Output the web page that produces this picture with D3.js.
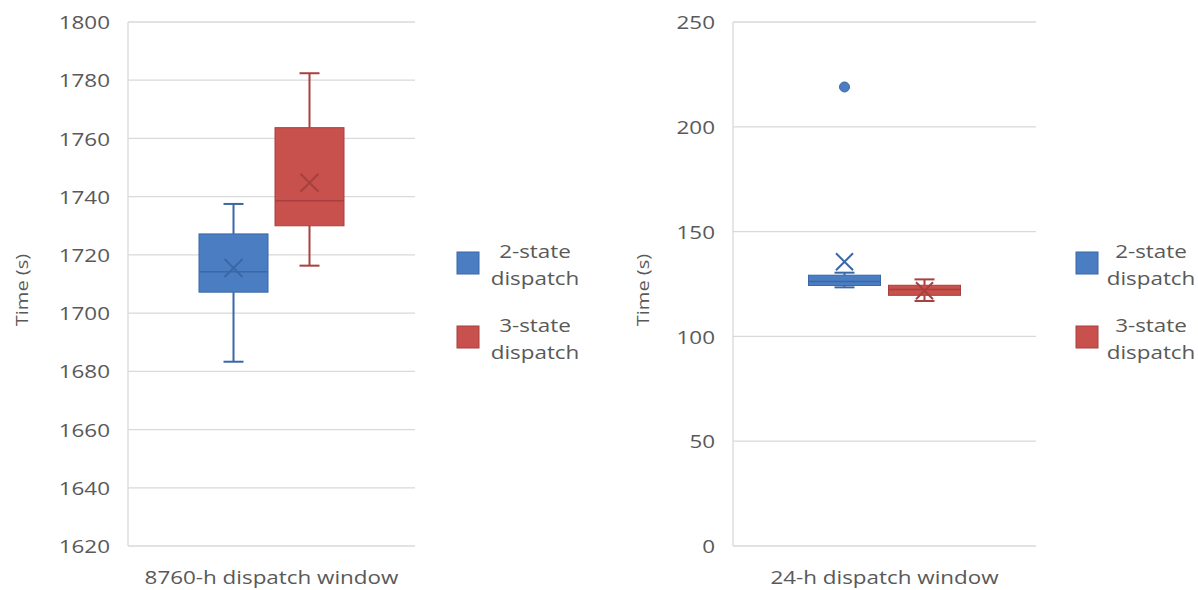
<!DOCTYPE html>
<html>
<head>
<meta charset="utf-8">
<script src="https://cdn.jsdelivr.net/npm/d3@7/dist/d3.min.js"></script>
<style>
  html, body { margin: 0; padding: 0; background: #fff; }
  svg { display: block; }
  text { font-family: "Open Sans", "Noto Sans", sans-serif; fill: #595959; }
</style>
</head>
<body>
<svg id="chart" width="1198" height="590"></svg>
<script>
// Run-time comparison: two dispatch windows, each with a 2-state and a 3-state model.
const categories = ["8760-h dispatch window", "24-h dispatch window"];
const seriesNames = ["2-state dispatch", "3-state dispatch"];
const legendLines = [["2-state", "dispatch"], ["3-state", "dispatch"]];

// Box statistics per window: [2-state, 3-state]
const lowWhisker  = [[1683.3, 1716.3], [123.4, 116.9]];
const q1          = [[1707.2, 1730.0], [124.3, 119.6]];
const median      = [[1714.2, 1738.6], [126.2, 122.4]];
const q3          = [[1727.2, 1763.7], [129.2, 124.4]];
const highWhisker = [[1737.5, 1782.4], [130.4, 127.2]];
const means       = [[1715.5, 1744.8], [135.6, 121.8]];
const outliers    = [[[], []], [[219], []]];

// Axis ticks per window
const yTicks = [
  [1620, 1640, 1660, 1680, 1700, 1720, 1740, 1760, 1780, 1800],
  [0, 50, 100, 150, 200, 250]
];
const yTitle = "Time (s)";

const fills   = ["#4a7dc2", "#c8504d"];
const strokes = ["#3a67a6", "#a7403e"];

// Panel geometry
const panels = [
  { left: 128, right: 415, top: 22, bottom: 546, groupWidth: 145, gap: 7, legendX: 457, legendText: 78, titleX: 22 },
  { left: 733, right: 1036, top: 22, bottom: 546, groupWidth: 152, gap: 8, legendX: 1076, legendText: 75, titleX: 643 }
];

const TEXT_STRETCH = 1.18;
const FONT = "19px";
const svg = d3.select("#chart");

panels.forEach((p, ci) => {
  const g = svg.append("g");
  const ticks = yTicks[ci];

  const y = d3.scaleLinear()
    .domain([ticks[0], ticks[ticks.length - 1]])
    .range([p.bottom, p.top]);

  const x0 = d3.scaleBand().domain([categories[ci]]).range([p.left, p.right]);
  const cx = x0(categories[ci]) + x0.bandwidth() / 2;
  const x1 = d3.scaleBand()
    .domain(seriesNames)
    .range([cx - p.groupWidth / 2, cx + p.groupWidth / 2])
    .paddingInner(p.gap / (p.groupWidth / 2 + p.gap / 2));

  // Gridlines
  g.append("g")
    .selectAll("line")
    .data(ticks)
    .join("line")
    .attr("x1", p.left).attr("x2", p.right)
    .attr("y1", d => y(d)).attr("y2", d => y(d))
    .attr("stroke", "#d9d9d9").attr("stroke-width", 1.3);

  // Vertical axis line
  g.append("line")
    .attr("x1", p.left).attr("x2", p.left)
    .attr("y1", p.top).attr("y2", p.bottom)
    .attr("stroke", "#d9d9d9").attr("stroke-width", 1.3);

  // Y axis labels
  const yAxis = d3.axisLeft(y).tickValues(ticks).tickFormat(d3.format("d")).tickSize(0).tickPadding(0);
  const ya = g.append("g").attr("transform", `translate(${p.left},0)`).call(yAxis);
  ya.select(".domain").remove();
  ya.selectAll("text")
    .attr("x", 0).attr("dy", "0.35em")
    .attr("transform", `translate(-18,0) scale(${TEXT_STRETCH},1)`)
    .style("font-size", FONT)
    .style("font-family", "'Open Sans', sans-serif")
    .style("fill", "#595959");

  // Y axis title
  g.append("text")
    .attr("transform", `translate(${p.titleX + 6},${(p.top + p.bottom) / 2 + 6}) rotate(-90) scale(${TEXT_STRETCH},1)`)
    .attr("text-anchor", "middle")
    .style("font-size", "17px")
    .text(yTitle);

  // X axis label
  g.append("text")
    .attr("transform", `translate(${cx},${p.bottom + 38}) scale(${TEXT_STRETCH},1)`)
    .attr("text-anchor", "middle")
    .style("font-size", FONT)
    .text(categories[ci]);

  // Boxes
  seriesNames.forEach((s, si) => {
    const bx = x1(s);
    const bw = x1.bandwidth();
    const mx = bx + bw / 2;
    const sg = g.append("g");

    // whiskers
    sg.append("line")
      .attr("x1", mx).attr("x2", mx)
      .attr("y1", y(highWhisker[ci][si])).attr("y2", y(q3[ci][si]))
      .attr("stroke", strokes[si]).attr("stroke-width", 2);
    sg.append("line")
      .attr("x1", mx).attr("x2", mx)
      .attr("y1", y(q1[ci][si])).attr("y2", y(lowWhisker[ci][si]))
      .attr("stroke", strokes[si]).attr("stroke-width", 2);
    [highWhisker[ci][si], lowWhisker[ci][si]].forEach(v => {
      sg.append("line")
        .attr("x1", mx - 10).attr("x2", mx + 10)
        .attr("y1", y(v)).attr("y2", y(v))
        .attr("stroke", strokes[si]).attr("stroke-width", 2);
    });

    // box
    sg.append("rect")
      .attr("x", bx).attr("width", bw)
      .attr("y", y(q3[ci][si]))
      .attr("height", y(q1[ci][si]) - y(q3[ci][si]))
      .attr("fill", fills[si])
      .attr("stroke", strokes[si]).attr("stroke-width", 1);

    // median
    sg.append("line")
      .attr("x1", bx).attr("x2", bx + bw)
      .attr("y1", y(median[ci][si])).attr("y2", y(median[ci][si]))
      .attr("stroke", strokes[si]).attr("stroke-width", 1.6);

    // mean marker
    const my = y(means[ci][si]);
    const r = ci === 0 ? 9 : 8.5;
    sg.append("path")
      .attr("d", `M${mx - r},${my - r}L${mx + r},${my + r}M${mx - r},${my + r}L${mx + r},${my - r}`)
      .attr("stroke", strokes[si]).attr("stroke-width", 2).attr("fill", "none");

    // outliers
    sg.selectAll("circle")
      .data(outliers[ci][si])
      .join("circle")
      .attr("cx", mx).attr("cy", d => y(d)).attr("r", 5)
      .attr("fill", fills[si]).attr("stroke", strokes[si]).attr("stroke-width", 1);
  });

  // Legend
  const lg = g.append("g");
  const legendRows = [252, 326];
  seriesNames.forEach((s, si) => {
    lg.append("rect")
      .attr("x", p.legendX).attr("y", legendRows[si])
      .attr("width", 22).attr("height", 22)
      .attr("fill", fills[si]).attr("stroke", strokes[si]).attr("stroke-width", 1);
    legendLines[si].forEach((line, li) => {
      lg.append("text")
        .attr("transform", `translate(${p.legendX + p.legendText},${legendRows[si] + 6 + li * 27}) scale(${TEXT_STRETCH},1)`)
        .attr("text-anchor", "middle")
        .style("font-size", FONT)
        .text(line);
    });
  });
});
</script>
</body>
</html>
